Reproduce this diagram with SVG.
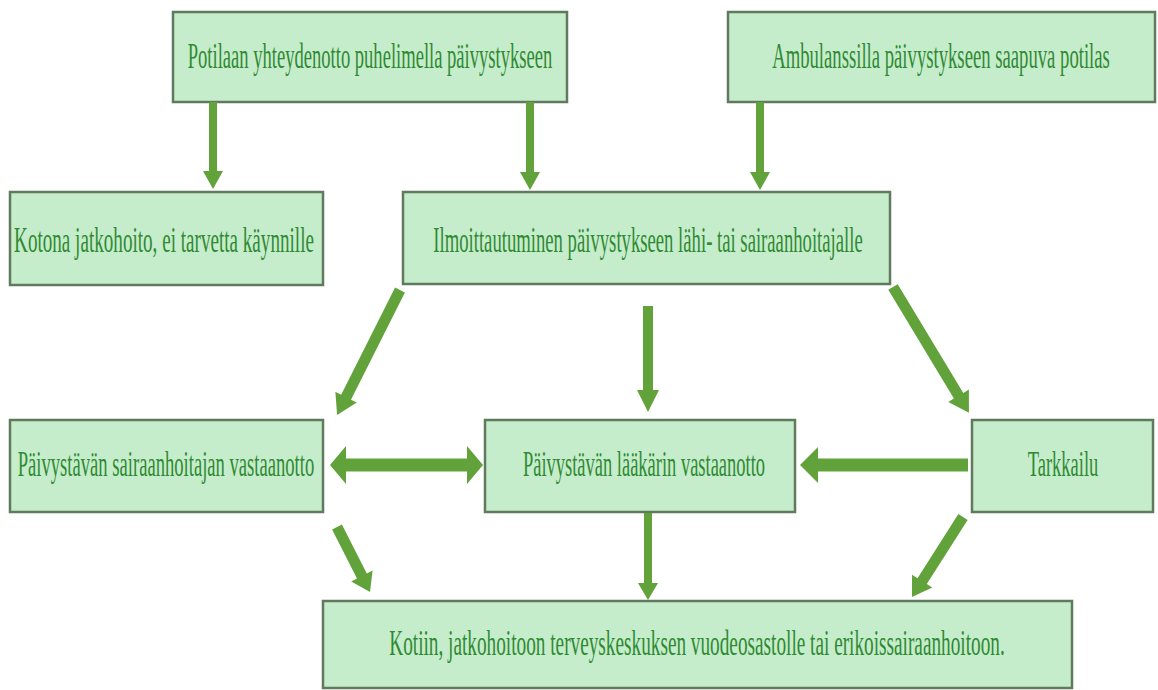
<svg xmlns="http://www.w3.org/2000/svg" width="1158" height="690" viewBox="0 0 1158 690">
<style>
.box{fill:#c6edcb;stroke:#5f7a5c;stroke-width:2.5}
.t{font-family:"Liberation Serif","Times New Roman",serif;font-size:36px;fill:#2f8a33;text-anchor:middle}
.ar{fill:#62a23a}
</style>
<rect width="1158" height="690" fill="#ffffff"/>
<g id="n1"><rect class="box" x="173" y="12" width="394" height="90"/><text class="t" transform="translate(370,68) scale(0.516,1)">Potilaan yhteydenotto puhelimella päivystykseen</text></g>
<g id="n2"><rect class="box" x="728" y="12" width="427" height="90"/><text class="t" transform="translate(941,68) scale(0.519,1)">Ambulanssilla päivystykseen saapuva potilas</text></g>
<g id="n3"><rect class="box" x="10" y="192" width="313" height="93"/><text class="t" transform="translate(164,252) scale(0.531,1)">Kotona jatkohoito, ei tarvetta käynnille</text></g>
<g id="n4"><rect class="box" x="403" y="192" width="487" height="92"/><text class="t" transform="translate(648,252) scale(0.519,1)">Ilmoittautuminen päivystykseen lähi- tai sairaanhoitajalle</text></g>
<g id="n5"><rect class="box" x="10" y="420" width="313" height="92"/><text class="t" transform="translate(166,476) scale(0.517,1)">Päivystävän sairaanhoitajan vastaanotto</text></g>
<g id="n6"><rect class="box" x="485" y="420" width="310" height="92"/><text class="t" transform="translate(644,476) scale(0.513,1)">Päivystävän lääkärin vastaanotto</text></g>
<g id="n7"><rect class="box" x="972" y="420" width="181" height="92"/><text class="t" transform="translate(1063,476) scale(0.514,1)">Tarkkailu</text></g>
<g id="n8"><rect class="box" x="323" y="601" width="749" height="87"/><text class="t" transform="translate(697,655) scale(0.535,1)">Kotiin, jatkohoitoon terveyskeskuksen vuodeosastolle tai erikoissairaanhoitoon.</text></g>
<g id="connectors" class="ar">
<polygon points="209,102 217,102 217,171 223,171 213,189 203,171 209,171"/>
<polygon points="526,102 534,102 534,172 540,172 530,190 520,172 526,172"/>
<polygon points="756,102 764,102 764,172 770,172 760,190 750,172 756,172"/>
<polygon points="643,306 653,306 653,390 659,390 648,412 637,390 643,390"/>
<polygon points="644,513 652,513 652,583 658,583 648,600 638,583 644,583"/>
<polygon transform="translate(400,290) rotate(116.7)" points="0,-5.5 120,-5.5 120,-12 140,0 120,12 120,5.5 0,5.5"/>
<polygon transform="translate(893,287) rotate(58.9)" points="0,-5.5 127,-5.5 127,-12 147,0 127,12 127,5.5 0,5.5"/>
<polygon transform="translate(337,527) rotate(63.1)" points="0,-5.5 55,-5.5 55,-12 73,0 55,12 55,5.5 0,5.5"/>
<polygon transform="translate(963,517) rotate(122.5)" points="0,-5.5 76,-5.5 76,-12 95,0 76,12 76,5.5 0,5.5"/>
<polygon points="330,465 346,446 346,458.5 467,458.5 467,446 483,465 467,484 467,471.5 346,471.5 346,484"/>
<polygon points="800,465 818,447 818,458.5 968,458.5 968,471.5 818,471.5 818,483"/>
</g>
</svg>
